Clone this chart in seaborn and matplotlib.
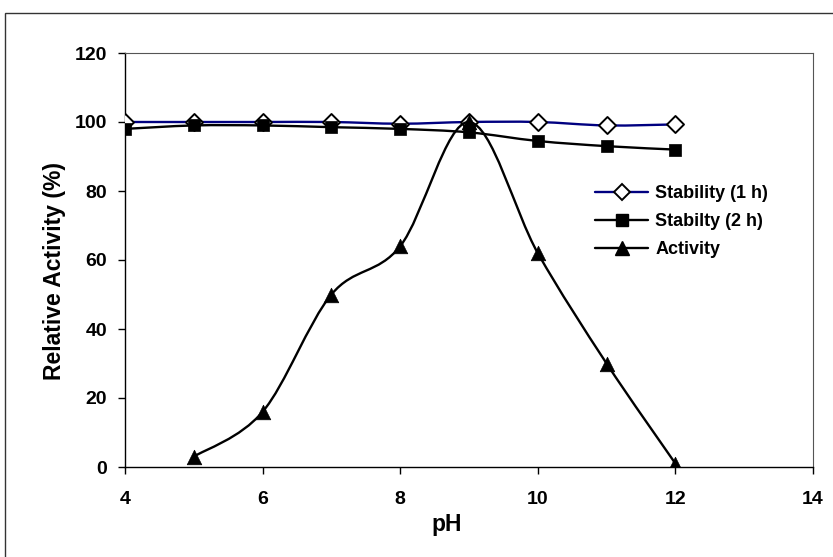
import numpy as np
import pandas as pd
import seaborn as sns
import matplotlib
matplotlib.use("Agg")
import matplotlib.pyplot as plt
from matplotlib.path import Path
from matplotlib.patches import PathPatch, Rectangle
from matplotlib.lines import Line2D

# ---- data ----
ph_stab = [4, 5, 6, 7, 8, 9, 10, 11, 12]
stability_1h = [100, 100, 100, 100, 99.5, 100, 100, 99, 99.3]
stability_2h = [98, 99, 99, 98.5, 98, 97, 94.5, 93, 92]
ph_act = [5, 6, 7, 8, 9, 10, 11, 12]
activity = [3, 16, 50, 64, 100, 62, 30, 1]
series_names = ["Stability (1 h)", "Stabilty (2 h)", "Activity"]
x_ticks = [4, 6, 8, 10, 12, 14]
y_ticks = [0, 20, 40, 60, 80, 100, 120]

sns.set_theme(style="white")
plt.rcParams['font.family'] = ['Liberation Sans', 'DejaVu Sans']
plt.rcParams['font.weight'] = 'bold'
plt.rcParams['text.color'] = 'black'
plt.rcParams['axes.labelcolor'] = 'black'
plt.rcParams['xtick.color'] = 'black'
plt.rcParams['ytick.color'] = 'black'

W, H = 833, 557
fig = plt.figure(figsize=(W / 100, H / 100), dpi=100)
ax = fig.add_axes([125 / W, 1 - 467 / H, (813 - 125) / W, (467 - 53) / H])

# outer chart border
fig.patches.append(Rectangle((5 / W, -0.05), 1.0, 1 - 13 / H + 0.05, transform=fig.transFigure,
                             fill=False, edgecolor='#333333', linewidth=1.0, zorder=0))


def smooth_path(xs, ys):
    """Excel-style smoothed line through data points (cubic Bezier segments)."""
    pts = np.column_stack([xs, ys]).astype(float)
    n = len(pts)
    verts = [pts[0]]
    codes = [Path.MOVETO]
    for i in range(n - 1):
        p0 = pts[i - 1] if i > 0 else pts[i]
        p1 = pts[i]
        p2 = pts[i + 1]
        p3 = pts[i + 2] if i + 2 < n else pts[i + 1]
        c1 = p1 + (p2 - p0) / 6.0
        c2 = p2 - (p3 - p1) / 6.0
        verts += [c1, c2, p2]
        codes += [Path.CURVE4] * 3
    return Path(verts, codes)


df1 = pd.DataFrame({"pH": ph_stab, "v": stability_1h})
df2 = pd.DataFrame({"pH": ph_stab, "v": stability_2h})
df3 = pd.DataFrame({"pH": ph_act, "v": activity})

lw = 1.7
ax.add_patch(PathPatch(smooth_path(df1.pH, df1.v), fill=False, edgecolor='#000080', lw=lw, zorder=2))
sns.scatterplot(data=df1, x="pH", y="v", ax=ax, marker='D', s=75, color='white',
                edgecolor='black', linewidth=1.4, zorder=3)
ax.add_patch(PathPatch(smooth_path(df2.pH, df2.v), fill=False, edgecolor='black', lw=lw, zorder=4))
sns.scatterplot(data=df2, x="pH", y="v", ax=ax, marker='s', s=85, color='black',
                edgecolor='black', linewidth=0.5, zorder=5)
ax.add_patch(PathPatch(smooth_path(df3.pH, df3.v), fill=False, edgecolor='black', lw=lw, zorder=6))
sns.scatterplot(data=df3, x="pH", y="v", ax=ax, marker='^', s=110, color='black',
                edgecolor='black', linewidth=0.5, zorder=7)

ax.set_xlim(4, 14)
ax.set_ylim(0, 120)
ax.set_xticks(x_ticks)
ax.set_yticks(y_ticks)
ax.set_xticklabels([str(t) for t in x_ticks], fontsize=14, fontweight='bold', color='black')
ax.set_yticklabels([str(t) for t in y_ticks], fontsize=14, fontweight='bold', color='black')
ax.tick_params(axis='both', direction='out', length=5, width=1, color='black',
               bottom=True, left=True)
ax.tick_params(axis='y', pad=8)
ax.tick_params(axis='x', pad=12)
ax.set_xlabel("pH", fontsize=16.5, fontweight='bold', color='black')
ax.set_ylabel("Relative Activity (%)", fontsize=16.5, fontweight='bold', color='black')
ax.xaxis.set_label_coords((447 - 125) / 688, (467 - 513) / 414)
ax.yaxis.set_label_coords((66 - 125) / 688, (467 - 271) / 414)

for side in ['left', 'bottom']:
    ax.spines[side].set_color('black')
    ax.spines[side].set_linewidth(1.0)
for side in ['top', 'right']:
    ax.spines[side].set_color('#555555')
    ax.spines[side].set_linewidth(0.8)

handles = [
    Line2D([], [], color='#000080', lw=lw, marker='D', markersize=8, markerfacecolor='white',
           markeredgecolor='black', markeredgewidth=1.4),
    Line2D([], [], color='black', lw=lw, marker='s', markersize=9, markerfacecolor='black'),
    Line2D([], [], color='black', lw=lw, marker='^', markersize=10, markerfacecolor='black'),
]
leg = ax.legend(handles, series_names, loc='upper left',
                bbox_to_anchor=((595 - 125) / 688, (467 - 185) / 414),
                frameon=False, numpoints=1, prop={'weight': 'bold', 'size': 13}, handlelength=2.95,
                handletextpad=0.4, labelspacing=0.62, borderaxespad=0, borderpad=0)
for t in leg.get_texts():
    t.set_color('black')

fig.savefig("out.png", dpi=100)
